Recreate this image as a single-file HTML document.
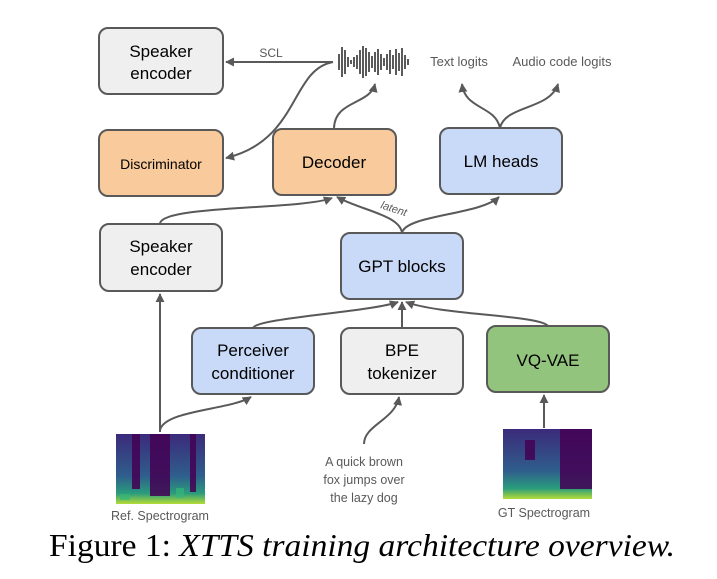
<!DOCTYPE html>
<html><head><meta charset="utf-8"><style>
body{margin:0;background:#fff;}
svg{display:block;font-family:"Liberation Sans",Arial,sans-serif;}
</style></head><body>
<svg width="717" height="579" viewBox="0 0 717 579" xmlns="http://www.w3.org/2000/svg">
<defs>
<marker id="a" viewBox="0 0 10 10" refX="9" refY="5" markerWidth="4.5" markerHeight="4.5" orient="auto"><path d="M0,0 L10,5 L0,10 z" fill="#595959"/></marker>
<linearGradient id="g1" x1="0" y1="0" x2="0" y2="1"><stop offset="0" stop-color="#3b2a7a"/><stop offset="0.6" stop-color="#2f5e8c"/><stop offset="0.85" stop-color="#2a9d7c"/><stop offset="1" stop-color="#b5dc36"/></linearGradient>
</defs>
<g fill="none" stroke="#595959" stroke-width="2">
<rect x="99" y="28" width="124" height="66" rx="9" fill="#efefef"/>
<rect x="99" y="130" width="124" height="66" rx="9" fill="#f9cb9c"/>
<rect x="273" y="129" width="123" height="66" rx="9" fill="#f9cb9c"/>
<rect x="440" y="128" width="122" height="66" rx="9" fill="#c9daf8"/>
<rect x="100" y="224" width="122" height="67" rx="9" fill="#efefef"/>
<rect x="341" y="233" width="122" height="66" rx="9" fill="#c9daf8"/>
<rect x="192" y="328" width="122" height="66" rx="9" fill="#c9daf8"/>
<rect x="341" y="328" width="122" height="66" rx="9" fill="#efefef"/>
<rect x="487" y="326" width="122" height="66" rx="9" fill="#93c47d"/>
<path d="M333,62 L226,62" marker-end="url(#a)"/>
<path d="M333,62 C290,70 300,140 226,158" marker-end="url(#a)"/>
<path d="M334,129 C334,100 370,105 375,84" marker-end="url(#a)"/>
<path d="M500,128 C495,105 465,110 462,84" marker-end="url(#a)"/>
<path d="M500,128 C505,105 550,110 558,84" marker-end="url(#a)"/>
<path d="M160,224 C160,205 300,210 332,198" marker-end="url(#a)"/>
<path d="M402,233 C400,215 360,210 337,197" marker-end="url(#a)"/>
<path d="M402,233 C405,215 480,215 499,197" marker-end="url(#a)"/>
<path d="M160,432 L160,294" marker-end="url(#a)"/>
<path d="M160,430 C165,410 230,410 251,397" marker-end="url(#a)"/>
<path d="M364,444 C364,425 395,420 399,397" marker-end="url(#a)"/>
<path d="M544,428 L544,395" marker-end="url(#a)"/>
<path d="M253,328 C256,318 370,312 398,302" marker-end="url(#a)"/>
<path d="M402,328 L402,302" marker-end="url(#a)"/>
<path d="M548,326 C540,315 440,315 406,302" marker-end="url(#a)"/>
</g>
<g stroke="#222" stroke-width="1.5">
<line x1="339" y1="54" x2="339" y2="70"/><line x1="342" y1="47" x2="342" y2="77"/><line x1="345" y1="50" x2="345" y2="74"/><line x1="348" y1="57" x2="348" y2="67"/><line x1="351" y1="60" x2="351" y2="64"/><line x1="354" y1="57" x2="354" y2="67"/><line x1="357" y1="55" x2="357" y2="69"/><line x1="360" y1="50" x2="360" y2="74"/><line x1="363" y1="46" x2="363" y2="78"/><line x1="366" y1="48" x2="366" y2="76"/><line x1="369" y1="52" x2="369" y2="72"/><line x1="372" y1="56" x2="372" y2="68"/><line x1="375" y1="52" x2="375" y2="72"/><line x1="378" y1="49" x2="378" y2="75"/><line x1="381" y1="54" x2="381" y2="70"/><line x1="384" y1="58" x2="384" y2="66"/><line x1="387" y1="54" x2="387" y2="70"/><line x1="390" y1="50" x2="390" y2="74"/><line x1="393" y1="55" x2="393" y2="69"/><line x1="396" y1="49" x2="396" y2="75"/><line x1="399" y1="53" x2="399" y2="71"/><line x1="402" y1="48" x2="402" y2="76"/><line x1="405" y1="55" x2="405" y2="69"/><line x1="408" y1="59" x2="408" y2="65"/>
</g>
<rect x="116" y="434" width="89" height="70" fill="url(#g1)"/>
<g fill="#440154" opacity="0.85"><rect x="132" y="434" width="8" height="55"/><rect x="150" y="434" width="20" height="62"/><rect x="190" y="434" width="6" height="58"/></g>
<g fill="#35b779" opacity="0.7"><rect x="120" y="494" width="10" height="6"/><rect x="176" y="488" width="8" height="10"/></g>
<rect x="503" y="429" width="89" height="70" fill="url(#g1)"/>
<g fill="#440154" opacity="0.85"><rect x="560" y="429" width="32" height="60"/><rect x="525" y="440" width="10" height="20"/></g>
<g fill="#595959" font-size="12">
<text x="271" y="57" text-anchor="middle">SCL</text>
<text x="459" y="66" text-anchor="middle" font-size="13">Text logits</text>
<text x="562" y="66" text-anchor="middle" font-size="13">Audio code logits</text>
<text x="380" y="208" font-style="italic" font-size="11" transform="rotate(18 380 208)">latent</text>
<text x="160" y="520" text-anchor="middle" font-size="12.5">Ref. Spectrogram</text>
<text x="544" y="517" text-anchor="middle" font-size="12.5">GT Spectrogram</text>
<text x="364" y="466" text-anchor="middle" font-size="12.5">A quick brown</text>
<text x="364" y="484" text-anchor="middle" font-size="12.5">fox jumps over</text>
<text x="364" y="502" text-anchor="middle" font-size="12.5">the lazy dog</text>
</g>
<g fill="#000" font-size="17" text-anchor="middle">
<text x="161" y="57">Speaker</text><text x="161" y="79">encoder</text>
<text x="161" y="169" font-size="14">Discriminator</text>
<text x="334" y="168">Decoder</text>
<text x="501" y="167">LM heads</text>
<text x="161" y="252">Speaker</text><text x="161" y="275">encoder</text>
<text x="402" y="272">GPT blocks</text>
<text x="253" y="356">Perceiver</text><text x="253" y="379">conditioner</text>
<text x="402" y="356">BPE</text><text x="402" y="379">tokenizer</text>
<text x="548" y="366">VQ-VAE</text>
</g>
<text x="49" y="556" font-family="Liberation Serif,serif" font-size="32" textLength="626" lengthAdjust="spacingAndGlyphs">Figure 1: <tspan font-style="italic">XTTS training architecture overview.</tspan></text>
</svg>
</body></html>
